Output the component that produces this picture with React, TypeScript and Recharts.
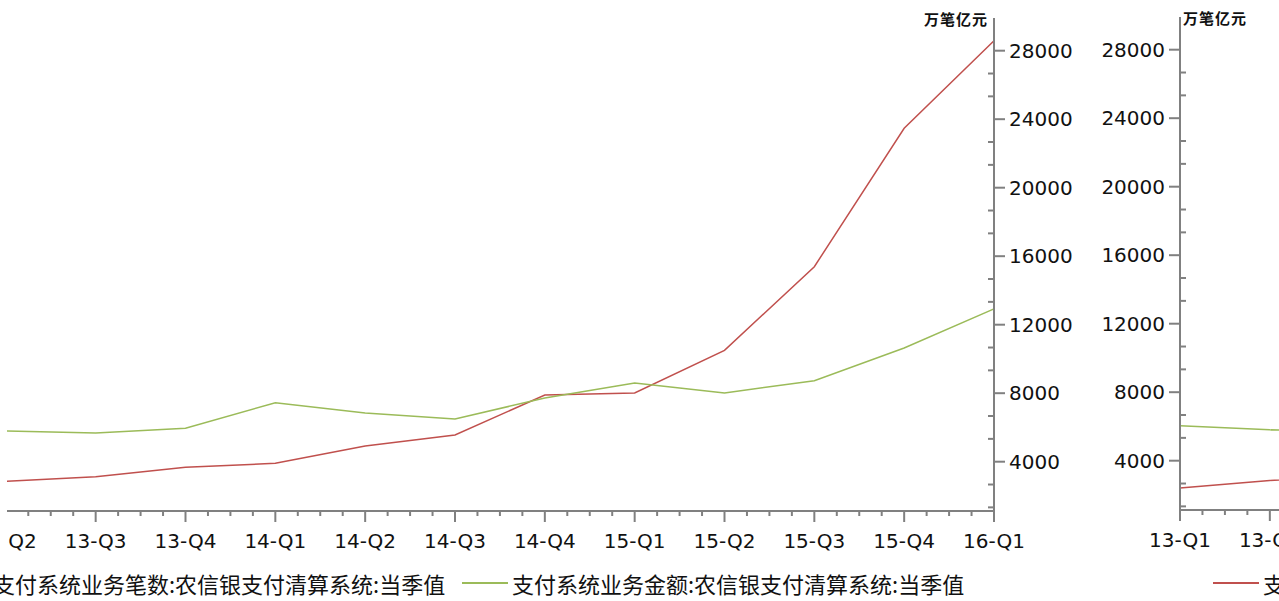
import React from 'react';
import { LineChart, Line, XAxis, YAxis } from 'recharts';

const quarters = ['13-Q1', '13-Q2', '13-Q3', '13-Q4', '14-Q1', '14-Q2', '14-Q3', '14-Q4', '15-Q1', '15-Q2', '15-Q3', '15-Q4', '16-Q1'];
const countValues = [2405, 2850, 3124, 3673, 3906, 4917, 5559, 7895, 8011, 10499, 15387, 23467, 28584];
const amountValues = [6045, 5800, 5676, 5950, 7445, 6846, 6495, 7719, 8595, 8011, 8730, 10639, 12921];
const yMajorTicks = [4000, 8000, 12000, 16000, 20000, 24000, 28000];
const yMinorTicks = [1333, 2667, 5333, 6667, 9333, 10667, 13333, 14667, 17333, 18667, 21333, 22667, 25333, 26667];
const countName = '支付系统业务笔数:农信银支付清算系统:当季值';
const amountName = '支付系统业务金额:农信银支付清算系统:当季值';
const unitLabel = '万笔亿元';

const RED = '#c0504d';
const GREEN = '#9bbb59';
const AXIS = '#808080';
const TEXT = '#111111';
const NUM_FONT = '"DejaVu Sans", sans-serif';
const CJK_FONT = '"Noto Sans CJK SC", sans-serif';

const data = quarters.map((q, i) => ({ idx: i, q, count: countValues[i], amount: amountValues[i] }));
const xTicks: number[] = [];
for (let i = 0; i <= (quarters.length - 1) * 4; i++) xTicks.push(i / 4);
const yTicks = [...yMinorTicks, ...yMajorTicks].sort((a, b) => a - b);
const Y_DOMAIN: [number, number] = [1121, 29909];

const XTick = (props: any) => {
  const { x, y, payload } = props;
  const v = payload.value as number;
  const major = Math.abs(v - Math.round(v)) < 1e-6;
  return (
    <g>
      <line x1={x} x2={x} y1={y} y2={y + (major ? 11 : 5)} stroke={AXIS} strokeWidth={2} />
      {major && (
        <text x={x} y={y + 30} textAnchor="middle" dominantBaseline="central" fill={TEXT} fontSize={20} fontFamily={NUM_FONT}>
          {quarters[Math.round(v)]}
        </text>
      )}
    </g>
  );
};

const makeYTick = (side: 'left' | 'right') => (props: any) => {
  const { x, y, payload } = props;
  const v = payload.value as number;
  const major = yMajorTicks.includes(v);
  const s = side === 'right' ? 1 : -1;
  return (
    <g>
      {major ? (
        <line x1={x} x2={x + s * 11} y1={y} y2={y} stroke={AXIS} strokeWidth={2} />
      ) : (
        <line x1={x} x2={x - s * 6} y1={y} y2={y} stroke={AXIS} strokeWidth={2} />
      )}
      {major && (
        <text x={x + s * 15} y={y} textAnchor={side === 'right' ? 'start' : 'end'} dominantBaseline="central" fill={TEXT} fontSize={20} fontFamily={NUM_FONT}>
          {v}
        </text>
      )}
    </g>
  );
};

const RightYTick = makeYTick('right');
const LeftYTick = makeYTick('left');

const LegendItem = ({ left, color, label }: { left: number; color: string; label: string }) => (
  <div style={{ position: 'absolute', left, top: 570, height: 26, display: 'flex', alignItems: 'center', whiteSpace: 'nowrap' }}>
    <div style={{ width: 46, height: 2, background: color, marginRight: 4 }} />
    <span style={{ fontFamily: CJK_FONT, fontSize: 22, color: TEXT, lineHeight: '26px' }}>{label}</span>
  </div>
);

export default function App() {
  return (
    <div style={{ position: 'fixed', left: 0, top: 0, width: 1279, height: 601, overflow: 'hidden', background: '#fff' }}>
      <div style={{ position: 'absolute', left: 7, top: 0, width: 1083, height: 565, overflow: 'hidden' }}>
        <div style={{ position: 'absolute', left: -111, top: 0 }}>
          <LineChart width={1188} height={560} data={data} margin={{ top: 18, right: 0, left: 20, bottom: 0 }}>
            <XAxis
              dataKey="idx"
              type="number"
              domain={[0, quarters.length - 1]}
              ticks={xTicks}
              interval={0}
              height={49}
              tickSize={0}
              tickMargin={0}
              tickLine={false}
              axisLine={{ stroke: AXIS, strokeWidth: 2 }}
              tick={<XTick />}
            />
            <YAxis
              orientation="right"
              type="number"
              domain={Y_DOMAIN}
              ticks={yTicks}
              interval={0}
              width={90}
              tickSize={0}
              tickMargin={0}
              tickLine={false}
              axisLine={{ stroke: AXIS, strokeWidth: 2 }}
              tick={<RightYTick />}
            />
            <Line type="linear" dataKey="count" stroke={RED} strokeWidth={1.5} dot={false} isAnimationActive={false} />
            <Line type="linear" dataKey="amount" stroke={GREEN} strokeWidth={1.5} dot={false} isAnimationActive={false} />
          </LineChart>
        </div>
      </div>
      <div style={{ position: 'absolute', left: 1090, top: 0 }}>
        <LineChart width={1188} height={559} data={data} margin={{ top: 17, right: 20, left: 0, bottom: 0 }}>
          <XAxis
            dataKey="idx"
            type="number"
            domain={[0, quarters.length - 1]}
            ticks={xTicks}
            interval={0}
            height={49}
            tickSize={0}
            tickMargin={0}
            tickLine={false}
            axisLine={{ stroke: AXIS, strokeWidth: 2 }}
            tick={<XTick />}
          />
          <YAxis
            orientation="left"
            type="number"
            domain={Y_DOMAIN}
            ticks={yTicks}
            interval={0}
            width={90}
            tickSize={0}
            tickMargin={0}
            tickLine={false}
            axisLine={{ stroke: AXIS, strokeWidth: 2 }}
            tick={<LeftYTick />}
          />
          <Line type="linear" dataKey="count" stroke={RED} strokeWidth={1.5} dot={false} isAnimationActive={false} />
          <Line type="linear" dataKey="amount" stroke={GREEN} strokeWidth={1.5} dot={false} isAnimationActive={false} />
        </LineChart>
      </div>
      <div style={{ position: 'absolute', left: 924, top: 8, fontFamily: CJK_FONT, fontSize: 15, fontWeight: 700, color: TEXT, letterSpacing: 1, whiteSpace: 'nowrap' }}>{unitLabel}</div>
      <div style={{ position: 'absolute', left: 1183, top: 7, fontFamily: CJK_FONT, fontSize: 15, fontWeight: 700, color: TEXT, letterSpacing: 1, whiteSpace: 'nowrap' }}>{unitLabel}</div>
      <LegendItem left={-57} color={RED} label={countName} />
      <LegendItem left={462} color={GREEN} label={amountName} />
      <LegendItem left={1213} color={RED} label={countName} />
    </div>
  );
}
